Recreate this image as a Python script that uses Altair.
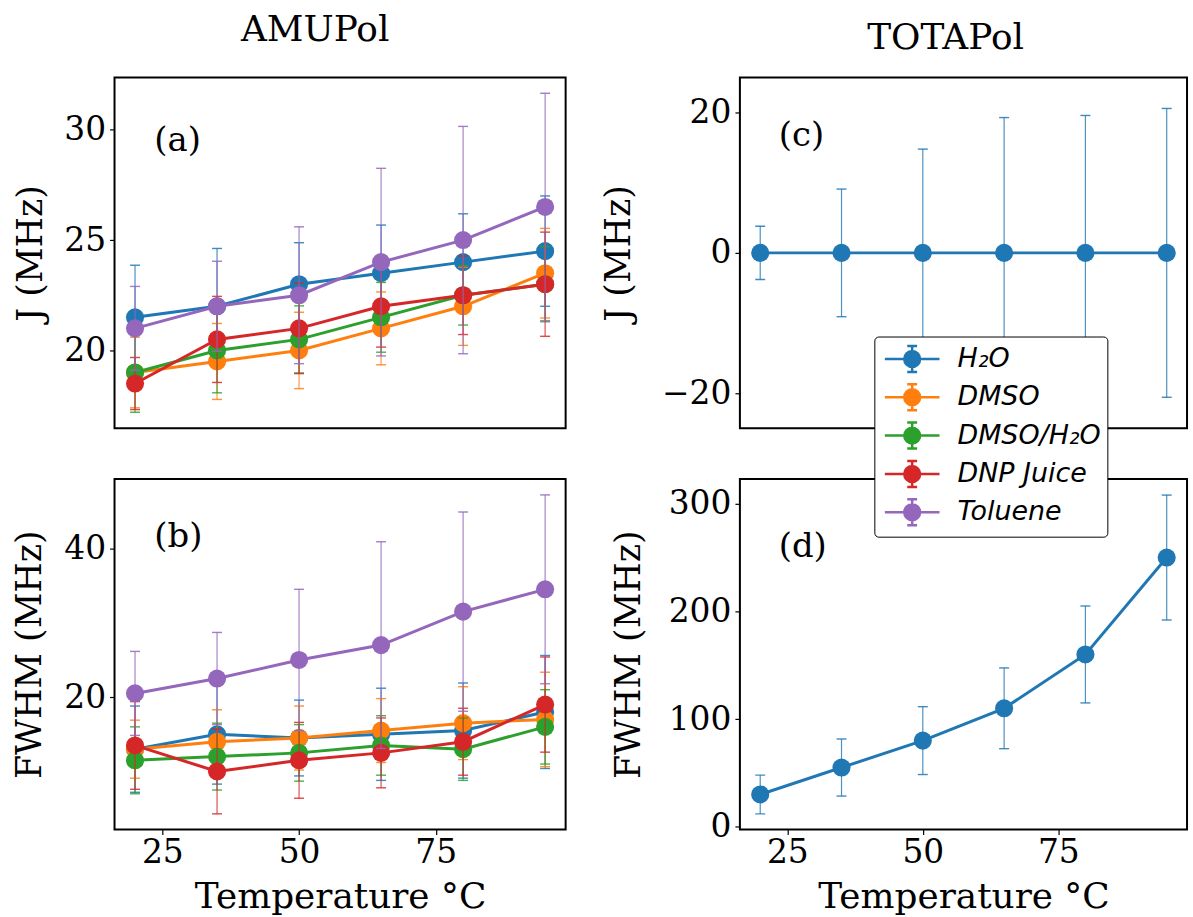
import altair as alt
import pandas as pd

temps = [20, 35, 50, 65, 80, 95]
series_names = ["H₂O", "DMSO", "DMSO/H₂O", "DNP Juice", "Toluene"]
series_colors = ["#1f77b4", "#ff7f0e", "#2ca02c", "#d62728", "#9467bd"]

# (a) AMUPol, J (MHz)
j_amu_h2o = [21.5, 22, 23, 23.5, 24, 24.5]
j_amu_h2o_err = [2.36, 2.62, 1.88, 2.18, 2.19, 2.5]
j_amu_dmso = [19, 19.5, 20, 21, 22, 23.5]
j_amu_dmso_err = [1.6, 1.72, 1.73, 1.65, 1.77, 2.03]
j_amu_mix = [19, 20, 20.5, 21.5, 22.5, 23]
j_amu_mix_err = [1.8, 1.92, 1.52, 1.58, 1.35, 1.7]
j_amu_dnp = [18.5, 20.5, 21, 22, 22.5, 23]
j_amu_dnp_err = [1.18, 1.95, 2.05, 1.85, 1.78, 2.36]
j_amu_tol = [21, 22, 22.5, 24, 25, 26.5]
j_amu_tol_err = [1.9, 2.04, 3.1, 4.25, 5.15, 5.15]

# (b) AMUPol, FWHM (MHz)
w_amu_h2o = [13, 15, 14.5, 15, 15.5, 18]
w_amu_h2o_err = [5.8, 6.7, 5.1, 6.2, 6.4, 7.6]
w_amu_dmso = [13, 14, 14.5, 15.5, 16.5, 17]
w_amu_dmso_err = [3.9, 4.3, 4.3, 4.3, 4.9, 6.35]
w_amu_mix = [11.5, 12, 12.5, 13.5, 13, 16]
w_amu_mix_err = [4.5, 4.5, 3.8, 4.0, 4.2, 5.0]
w_amu_dnp = [13.5, 10, 11.5, 12.5, 14, 19]
w_amu_dnp_err = [5.9, 5.7, 5.1, 4.7, 4.5, 6.4]
w_amu_tol = [20.5, 22.5, 25, 27, 31.5, 34.5]
w_amu_tol_err = [5.65, 6.2, 9.5, 13.9, 13.4, 12.7]

# (c) TOTAPol, J (MHz)
j_tota_h2o = [0, 0, 0, 0, 0, 0]
j_tota_h2o_err = [3.8, 9.1, 14.8, 19.3, 19.6, 20.6]

# (d) TOTAPol, FWHM (MHz)
w_tota_h2o = [30, 55, 80, 110, 160, 250]
w_tota_h2o_err = [18, 26.5, 31.5, 37.5, 45, 58]


def make_df(names, values, errors):
    rows = []
    for name, vals, errs in zip(names, values, errors):
        for t, v, e in zip(temps, vals, errs):
            rows.append({"series": name, "T": t, "v": v, "lo": v - e, "hi": v + e})
    return pd.DataFrame(rows)


df_a = make_df(series_names,
               [j_amu_h2o, j_amu_dmso, j_amu_mix, j_amu_dnp, j_amu_tol],
               [j_amu_h2o_err, j_amu_dmso_err, j_amu_mix_err, j_amu_dnp_err, j_amu_tol_err])
df_b = make_df(series_names,
               [w_amu_h2o, w_amu_dmso, w_amu_mix, w_amu_dnp, w_amu_tol],
               [w_amu_h2o_err, w_amu_dmso_err, w_amu_mix_err, w_amu_dnp_err, w_amu_tol_err])
df_c = make_df(series_names[:1], [j_tota_h2o], [j_tota_h2o_err])
df_d = make_df(series_names[:1], [w_tota_h2o], [w_tota_h2o_err])

LEG_PATH = ("M-1.83,0L1.83,0M0,-0.87L0,0.87M-0.33,-0.87L0.33,-0.87M-0.33,0.87L0.33,0.87"
            "M0.53,0A0.53,0.53,0,1,1,-0.53,0A0.53,0.53,0,1,1,0.53,0Z")

legend = alt.Legend(
    title=None, orient="none", legendX=763, legendY=260,
    symbolType=LEG_PATH, symbolSize=900, symbolStrokeWidth=2.5, symbolOpacity=1,
    symbolOffset=15.5, labelOffset=29,
    labelFont="DejaVu Sans", labelFontStyle="italic", labelFontSize=27, labelColor="black",
    padding=6, rowPadding=1.5, strokeColor="black", fillColor="white", cornerRadius=4,
    labelLimit=400,
)
color_enc = alt.Color("series:N", scale=alt.Scale(domain=series_names, range=series_colors),
                      legend=legend)

XDOM = [16.25, 98.75]


def panel(df, names, ydom, yticks, ytitle, ypad, show_x, label, lx, ly, width, height):
    if show_x:
        xaxis = alt.Axis(title="Temperature °C", values=[25, 50, 75])
    else:
        xaxis = None
    xenc = alt.X("T:Q", scale=alt.Scale(domain=XDOM, nice=False, zero=False), axis=xaxis)
    yscale = alt.Scale(domain=ydom, nice=False, zero=False)
    yaxis = alt.Axis(title=ytitle, values=yticks, titlePadding=ypad)

    def Y(field):
        return alt.Y(field, type="quantitative", scale=yscale, axis=yaxis)

    layers = []
    for name in names:
        d = df[df["series"] == name]
        base = alt.Chart(d).encode(x=xenc, color=color_enc)
        layers.append(base.mark_rule(strokeWidth=1.2, opacity=0.8).encode(y=Y("lo"), y2="hi:Q"))
        layers.append(base.mark_tick(orient="horizontal", size=10, thickness=1.4, opacity=0.85).encode(y=Y("lo")))
        layers.append(base.mark_tick(orient="horizontal", size=10, thickness=1.4, opacity=0.85).encode(y=Y("hi")))
        layers.append(base.mark_line(strokeWidth=3).encode(y=Y("v")))
        layers.append(base.mark_point(filled=True, size=330, opacity=1).encode(y=Y("v")))
    txt = alt.Chart(pd.DataFrame({"t": [label]})).mark_text(
        font="DejaVu Serif", fontSize=34, align="left", baseline="middle", color="black"
    ).encode(x=alt.value(lx), y=alt.value(ly), text="t:N")
    layers.append(txt)
    return alt.layer(*layers).properties(width=width, height=height)


def col_title(text, dx, dy):
    return alt.Title(text, font="DejaVu Serif", fontSize=36, fontWeight="normal",
                     anchor="middle", frame="group", dx=dx, dy=dy, offset=1,
                     baseline="alphabetic", color="black")


pa = panel(df_a, series_names, [16.48, 32.36], [20, 25, 30], "J (MHz)", 15, False, "(a)", 40, 64, 453, 352
           ).properties(title=col_title("AMUPol", -25, 0))
pb = panel(df_b, series_names, [2.2, 49.35], [20, 40], "FWHM (MHz)", 16, True, "(b)", 40, 58, 453, 352)
pc = panel(df_c, series_names[:1], [-25, 25], [-20, 0, 20], "J (MHz)", 25, False, "(c)", 39, 59, 449, 352
           ).properties(title=col_title("TOTAPol", -18, 8))
pd_ = panel(df_d, series_names[:1], [-2.5, 323], [0, 100, 200, 300], "FWHM (MHz)", 22, True, "(d)", 39, 68, 449, 352)

chart = alt.concat(pa, pc, pb, pd_, columns=2, bounds="flush",
                   spacing={"row": 51, "column": 175}).configure_view(
    stroke="black", strokeWidth=2
).configure_axis(
    domain=False, grid=False, ticks=True, tickColor="black", tickWidth=1.2, tickSize=5,
    labelFont="DejaVu Serif", labelFontSize=33, labelColor="black",
    titleFont="DejaVu Serif", titleFontSize=35, titleFontWeight="normal", titleColor="black",
).configure_axisY(
    labelPadding=4
).configure_axisX(
    labelPadding=2, titlePadding=10, titleFontSize=36
).properties(padding={"left": 12, "top": 9, "right": 5, "bottom": 5}, background="white")

chart.save("out.html", embed_options={"renderer": "svg", "actions": False})
